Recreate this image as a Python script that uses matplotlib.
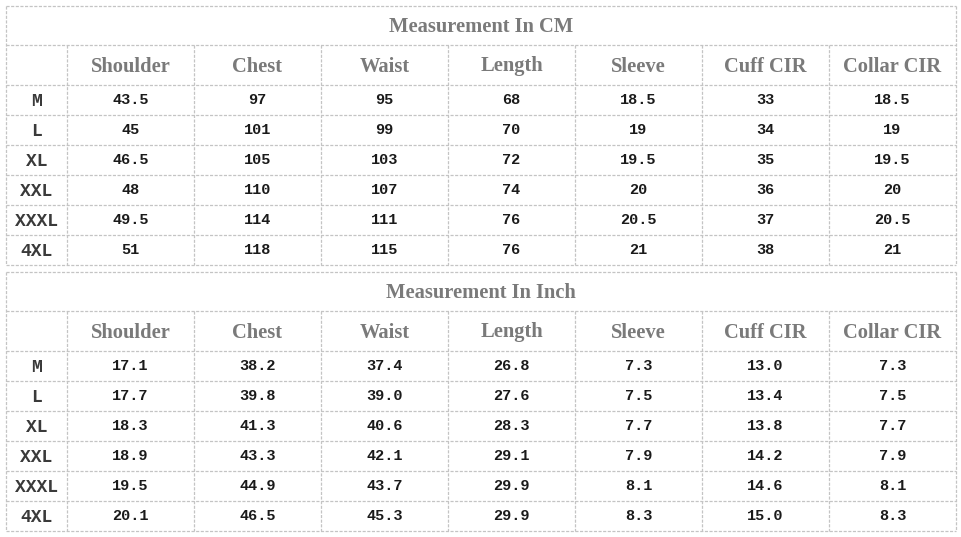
import matplotlib.pyplot as plt

sizes = ["M", "L", "XL", "XXL", "XXXL", "4XL"]
columns = ["Shoulder", "Chest", "Waist", "Length", "Sleeve", "Cuff CIR", "Collar CIR"]

cm_values = [
    ["43.5", "97", "95", "68", "18.5", "33", "18.5"],
    ["45", "101", "99", "70", "19", "34", "19"],
    ["46.5", "105", "103", "72", "19.5", "35", "19.5"],
    ["48", "110", "107", "74", "20", "36", "20"],
    ["49.5", "114", "111", "76", "20.5", "37", "20.5"],
    ["51", "118", "115", "76", "21", "38", "21"],
]

inch_values = [
    ["17.1", "38.2", "37.4", "26.8", "7.3", "13.0", "7.3"],
    ["17.7", "39.8", "39.0", "27.6", "7.5", "13.4", "7.5"],
    ["18.3", "41.3", "40.6", "28.3", "7.7", "13.8", "7.7"],
    ["18.9", "43.3", "42.1", "29.1", "7.9", "14.2", "7.9"],
    ["19.5", "44.9", "43.7", "29.9", "8.1", "14.6", "8.1"],
    ["20.1", "46.5", "45.3", "29.9", "8.3", "15.0", "8.3"],
]

titles = ["Measurement In CM", "Measurement In Inch"]

line_color = "#c4c4c4"
head_color = "#7a7a7a"
dash = (0, (2.5, 1.2))

fig = plt.figure(figsize=(9.62, 5.37), dpi=100)
ax = fig.add_axes([0, 0, 1, 1])
ax.set_xlim(0, 962)
ax.set_ylim(537, 0)
ax.axis("off")

x_edges = [6, 67, 194, 321, 448, 575, 702, 829, 956]


def draw_table(top, title, values):
    title_h = 39
    head_h = 40
    row_h = 30
    y_head = top + title_h
    y_rows = y_head + head_h
    bottom = y_rows + row_h * len(sizes)

    # horizontal lines
    ys = [top, y_head, y_rows] + [y_rows + row_h * (i + 1) for i in range(len(sizes))]
    for y in ys:
        ax.plot([x_edges[0], x_edges[-1]], [y, y], color=line_color,
                lw=0.9, linestyle=dash)
    # outer verticals
    for x in (x_edges[0], x_edges[-1]):
        ax.plot([x, x], [top, bottom], color=line_color, lw=0.9, linestyle=dash)
    # inner verticals
    for x in x_edges[1:-1]:
        ax.plot([x, x], [y_head, bottom], color=line_color, lw=0.9, linestyle=dash)

    # baseline alignment so "Length" sits level with the others
    ax.text((x_edges[0] + x_edges[-1]) / 2, top + 25.5, title,
            ha="center", va="baseline", fontsize=14.8, fontweight="bold",
            family="Liberation Serif", color=head_color)

    for j, name in enumerate(columns):
        xc = (x_edges[j + 1] + x_edges[j + 2]) / 2
        ax.text(xc, y_head + 26.5, name, ha="center", va="baseline",
                fontsize=14.8, fontweight="bold", family="Liberation Serif",
                color=head_color)

    for i, size in enumerate(sizes):
        yc = y_rows + row_h * i + row_h / 2 + 1
        ax.text((x_edges[0] + x_edges[1]) / 2, yc, size, ha="center",
                va="center", fontsize=13, fontweight="bold",
                family="Liberation Mono", color="#3a3a3a")
        for j, val in enumerate(values[i]):
            xc = (x_edges[j + 1] + x_edges[j + 2]) / 2
            ax.text(xc, yc - 1, val, ha="center", va="center", fontsize=11,
                    fontweight="bold", family="Liberation Mono",
                    color="#1a1a1a")


draw_table(6, titles[0], cm_values)
draw_table(272, titles[1], inch_values)

fig.savefig("out.png", dpi=100, facecolor="white")
